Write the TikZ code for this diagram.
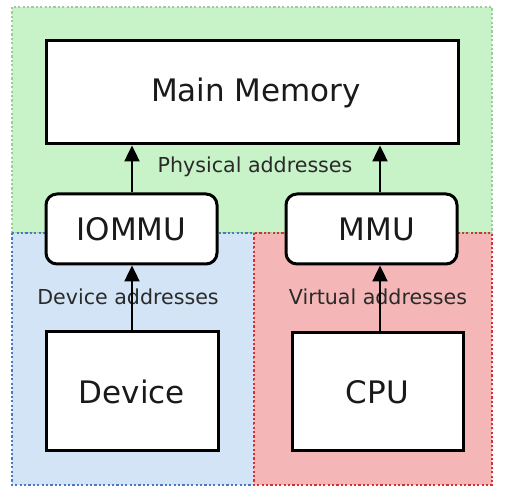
\documentclass[tikz,border=0pt]{standalone}
\usepackage{fontspec}
\setmainfont{DejaVu Sans}
\usetikzlibrary{arrows.meta}
\definecolor{gfill}{HTML}{C8F2C8}
\definecolor{gline}{HTML}{9CCB9C}
\definecolor{bfill}{HTML}{D2E4F5}
\definecolor{bline}{HTML}{4A78C4}
\definecolor{rfill}{HTML}{F4B6B6}
\definecolor{rline}{HTML}{D83030}
\definecolor{txt}{HTML}{1A1A1A}
\definecolor{lbl}{HTML}{2A2A2A}
\tikzset{
  region/.style={line width=2.2pt, dash pattern=on 2.2pt off 2.2pt},
  box/.style={draw=black, fill=white, line width=3pt, inner sep=0pt,
    text=txt, font=\fontsize{31}{35}\selectfont},
  rbox/.style={box, rounded corners=11pt},
  addr/.style={text=lbl, font=\fontsize{20.6}{24}\selectfont, inner sep=0pt},
  arr/.style={line width=2.4pt, -{Triangle[length=16pt,width=15pt]}}
}
\begin{document}
\begin{tikzpicture}[x=1pt,y=-1pt]
\useasboundingbox (0,0) rectangle (515,489);
\fill[white] (0,0) rectangle (515,489);
% regions
\path[region, fill=gfill, draw=gline] (12,7) rectangle (492,233);
\path[region, fill=bfill, draw=bline] (12,233) rectangle (254,485);
\path[region, fill=rfill, draw=rline] (254,233) rectangle (492,485);
% labels
\node[addr] (phys) at (255,167) {Physical addresses};
\node[addr] (devaddr) at (128,297) {Device addresses};
\node[addr] (virt) at (378,297) {Virtual addresses};
% boxes
\node[box, minimum width=412pt, minimum height=103pt] (mem) at (252,92.5) {\hspace{8pt}Main Memory};
\node[rbox, minimum width=171pt, minimum height=70pt] (iommu) at (131.5,229) {IOMMU\hspace{6pt}};
\node[rbox, minimum width=171pt, minimum height=70pt] (mmu) at (371.5,229) {\hspace{11pt}MMU};
\node[box, minimum width=172pt, minimum height=119pt] (device) at (132,391.5) {Device\hspace{10pt}};
\node[box, minimum width=171pt, minimum height=118pt] (cpu) at (377.5,392) {CPU};
% arrows
\coordinate (la) at (132,0);
\coordinate (ra) at (380,0);
\draw[arr] (device.north -| la) -- (iommu.south -| la);
\draw[arr] (iommu.north -| la) -- (mem.south -| la);
\draw[arr] (cpu.north -| ra) -- (mmu.south -| ra);
\draw[arr] (mmu.north -| ra) -- (mem.south -| ra);
\end{tikzpicture}
\end{document}
